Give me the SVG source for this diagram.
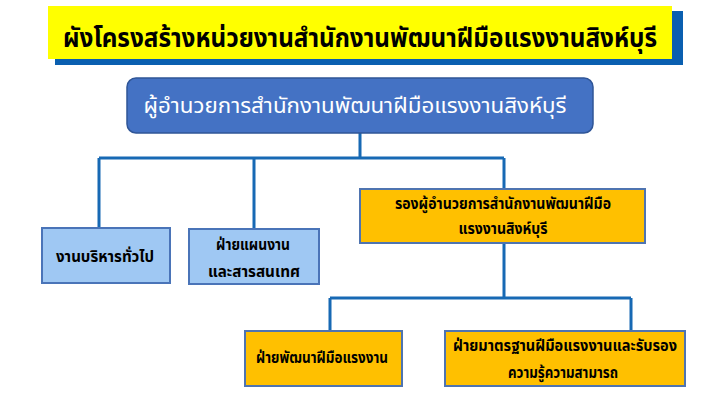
<svg xmlns="http://www.w3.org/2000/svg" width="720" height="403" viewBox="0 0 720 403">
<style>
text{font-family:"Noto Sans Thai","Noto Sans","DejaVu Sans",sans-serif;text-anchor:middle;fill:#000}
.conn{stroke:#1769B4;stroke-width:3;fill:none}
.lb{fill:#9FC8F3;stroke:#4A74B8;stroke-width:2}
.yb{fill:#FFC000;stroke:#4F74B0;stroke-width:2}
.t{font-size:16px;font-weight:bold}
</style>
<rect width="720" height="403" fill="#fff"/>
<g id="title">
<rect x="55" y="11" width="628" height="54" fill="#0A5FB0"/>
<rect x="48" y="6" width="624" height="53" fill="#FFFF00"/>
<text x="360" y="47" font-size="26" font-weight="bold" textLength="594" lengthAdjust="spacingAndGlyphs">ผังโครงสร้างหน่วยงานสำนักงานพัฒนาฝีมือแรงงานสิงห์บุรี</text>
</g>
<g id="connectors">
<path class="conn" d="M360 133V158M99 158H504M99 158V228M254 158V229M504 158V189M504 243V298M330 298H631M330 298V331M631 298V331"/>
</g>
<g id="director">
<rect x="127" y="78" width="466" height="55" rx="9" fill="#4472C4" stroke="#2F5597" stroke-width="1.5"/>
<text x="355" y="113" font-size="22" style="fill:#fff" textLength="423" lengthAdjust="spacingAndGlyphs">ผู้อำนวยการสำนักงานพัฒนาฝีมือแรงงานสิงห์บุรี</text>
</g>
<g id="general">
<rect class="lb" x="42" y="228" width="128" height="55"/>
<text class="t" x="105" y="262" textLength="98" lengthAdjust="spacingAndGlyphs">งานบริหารทั่วไป</text>
</g>
<g id="planning">
<rect class="lb" x="189" y="229" width="130" height="55"/>
<text class="t" x="253" y="250" textLength="74" lengthAdjust="spacingAndGlyphs">ฝ่ายแผนงาน</text>
<text class="t" x="254" y="277" textLength="92" lengthAdjust="spacingAndGlyphs">และสารสนเทศ</text>
</g>
<g id="deputy">
<rect class="yb" x="360" y="189" width="285" height="54"/>
<text class="t" x="503" y="209" textLength="216" lengthAdjust="spacingAndGlyphs">รองผู้อำนวยการสำนักงานพัฒนาฝีมือ</text>
<text class="t" x="503" y="234" textLength="89" lengthAdjust="spacingAndGlyphs">แรงงานสิงห์บุรี</text>
</g>
<g id="skill-dev">
<rect class="yb" x="245" y="331" width="157" height="55"/>
<text class="t" x="322" y="363" textLength="132" lengthAdjust="spacingAndGlyphs">ฝ่ายพัฒนาฝีมือแรงงาน</text>
</g>
<g id="standards">
<rect class="yb" x="445" y="331" width="240" height="55"/>
<text class="t" x="565" y="351" textLength="224" lengthAdjust="spacingAndGlyphs">ฝ่ายมาตรฐานฝีมือแรงงานและรับรอง</text>
<text class="t" x="563" y="378" textLength="110" lengthAdjust="spacingAndGlyphs">ความรู้ความสามารถ</text>
</g>
</svg>
